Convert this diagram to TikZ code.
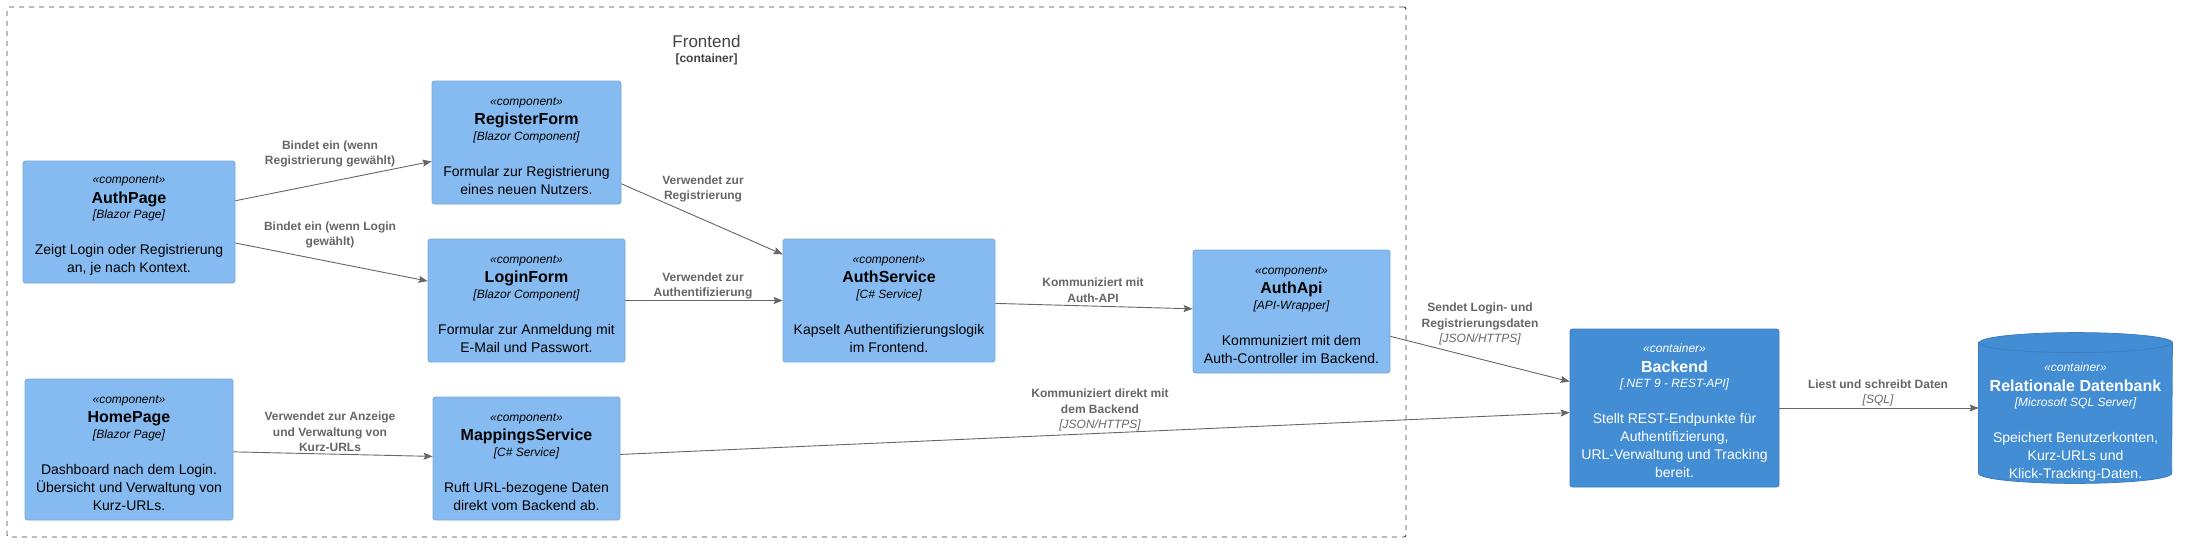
\documentclass[tikz,border=0pt]{standalone}
\usepackage{fontspec}
\setmainfont{Liberation Sans}
\usetikzlibrary{arrows.meta}
\definecolor{compfill}{HTML}{85BBF0}
\definecolor{compline}{HTML}{78A8D8}
\definecolor{contfill}{HTML}{438DD5}
\definecolor{contline}{HTML}{3C7FC0}
\definecolor{relgray}{HTML}{666666}
\definecolor{bndgray}{HTML}{444444}
\newcommand{\elemtext}[4]{{\fontsize{12}{18}\selectfont\itshape\rule{0pt}{15pt}«#1»}\\[1.5pt]{\fontsize{16}{18}\selectfont\bfseries #2}\\[-2.5pt]{\fontsize{12}{18}\selectfont\itshape [#3]}\\[18pt]#4}
\begin{document}
\begin{tikzpicture}[x=1pt,y=-1pt,
  box/.style={rectangle, rounded corners=2.5pt, align=center, inner sep=0pt, line width=0.8pt, font=\fontsize{14}{18}\selectfont},
  comp/.style={box, fill=compfill, draw=compline, text=black},
  cont/.style={box, fill=contfill, draw=contline, text=white},
  dbtext/.style={box, text=white},
  rel/.style={draw=relgray, line width=0.9pt, -{Stealth[length=9pt,width=7pt,inset=1.5pt]}},
  rellabel/.style={text=relgray, align=center, inner sep=0pt, font=\fontsize{12}{15.5}\selectfont\bfseries},
  boundary/.style={rectangle, draw=bndgray, line width=0.9pt, dash pattern=on 5pt off 5pt, rounded corners=2pt, inner sep=0pt},
  btitle/.style={text=bndgray, align=center, inner sep=0pt, font=\fontsize{17}{14.5}\selectfont}
]
\useasboundingbox (0,0) rectangle (2187,542);
\fill[white] (0,0) rectangle (2187,542);

% boundary
\node[boundary, minimum width=1399pt, minimum height=530pt] (frontend) at (706.5,272) {};
\node[btitle] (frontendtitle) at (706.5,50) {Frontend\\{\fontsize{12}{14.5}\selectfont\bfseries [container]}};

% components
\node[comp, minimum width=212pt, minimum height=122pt] (authpage) at (129,222)
  {\elemtext{component}{AuthPage}{Blazor Page}{Zeigt Login oder Registrierung\\an, je nach Kontext.}};
\node[comp, minimum width=189pt, minimum height=123pt] (registerform) at (526.5,142.5)
  {\elemtext{component}{RegisterForm}{Blazor Component}{Formular zur Registrierung\\eines neuen Nutzers.}};
\node[comp, minimum width=197pt, minimum height=123pt] (loginform) at (526.5,300.5)
  {\elemtext{component}{LoginForm}{Blazor Component}{Formular zur Anmeldung mit\\E-Mail und Passwort.}};
\node[comp, minimum width=212pt, minimum height=123pt] (authservice) at (889,300.5)
  {\elemtext{component}{AuthService}{C\# Service}{Kapselt Authentifizierungslogik\\im Frontend.}};
\node[comp, minimum width=197pt, minimum height=123pt] (authapi) at (1291.5,311.5)
  {\elemtext{component}{AuthApi}{API-Wrapper}{Kommuniziert mit dem\\Auth-Controller im Backend.}};
\node[comp, minimum width=208pt, minimum height=141pt] (homepage) at (129,449.5)
  {\elemtext{component}{HomePage}{Blazor Page}{Dashboard nach dem Login.\\Übersicht und Verwaltung von\\Kurz-URLs.}};
\node[comp, minimum width=187pt, minimum height=123pt] (mappings) at (526.5,458.5)
  {\elemtext{component}{MappingsService}{C\# Service}{Ruft URL-bezogene Daten\\direkt vom Backend ab.}};

% containers
\node[cont, minimum width=209pt, minimum height=158pt] (backend) at (1674.5,408)
  {\elemtext{container}{Backend}{.NET 9 - REST-API}{Stellt REST-Endpunkte für\\Authentifizierung,\\URL-Verwaltung und Tracking\\bereit.}};

% database cylinder
\node[dbtext, minimum width=193pt, minimum height=150pt] (db) at (2075.5,408) {};
\filldraw[fill=contfill, draw=contline, line width=0.8pt]
  ([yshift=-10pt]db.north west) -- ([yshift=10pt]db.south west)
  arc[start angle=180, end angle=360, x radius=96.5pt, y radius=10pt]
  -- ([yshift=-10pt]db.north east)
  arc[start angle=0, end angle=180, x radius=96.5pt, y radius=10pt] -- cycle;
\draw[contline, line width=0.8pt] ([yshift=-10pt]db.north west)
  arc[start angle=180, end angle=360, x radius=96.5pt, y radius=10pt];
\node[dbtext] (dblabel) at ([yshift=-11pt]db.center)
  {\elemtext{container}{Relationale Datenbank}{Microsoft SQL Server}{Speichert Benutzerkonten,\\Kurz-URLs und\\Klick-Tracking-Daten.}};

% relations
\draw[rel] (authpage) -- (registerform);
\draw[rel] (authpage) -- (loginform);
\draw[rel] (registerform) -- (authservice);
\draw[rel] (loginform) -- (authservice);
\draw[rel] (authservice) -- (authapi);
\draw[rel] (authapi) -- (backend);
\draw[rel] (homepage) -- (mappings);
\draw[rel] (mappings) -- (backend);
\draw[rel] (backend) -- (db);

% relation labels
\node[rellabel] (l1) at (330,154) {Bindet ein (wenn\\Registrierung gewählt)};
\node[rellabel] (l2) at (330,235) {Bindet ein (wenn Login\\gewählt)};
\node[rellabel] (l3) at (703,189) {Verwendet zur\\Registrierung};
\node[rellabel] (l4) at (703,286) {Verwendet zur\\Authentifizierung};
\node[rellabel] (l5) at (1093,290) {Kommuniziert mit\\Auth-API};
\node[rellabel] (l6) at (1100,410) {Kommuniziert direkt mit\\dem Backend\\{\mdseries\itshape [JSON/HTTPS]}};
\node[rellabel] (l7) at (1480,324) {Sendet Login- und\\Registrierungsdaten\\{\mdseries\itshape [JSON/HTTPS]}};
\node[rellabel] (l8) at (1878,393) {Liest und schreibt Daten\\{\mdseries\itshape [SQL]}};
\node[rellabel] (l9) at (330,432) {Verwendet zur Anzeige\\und Verwaltung von\\Kurz-URLs};
\end{tikzpicture}
\end{document}
